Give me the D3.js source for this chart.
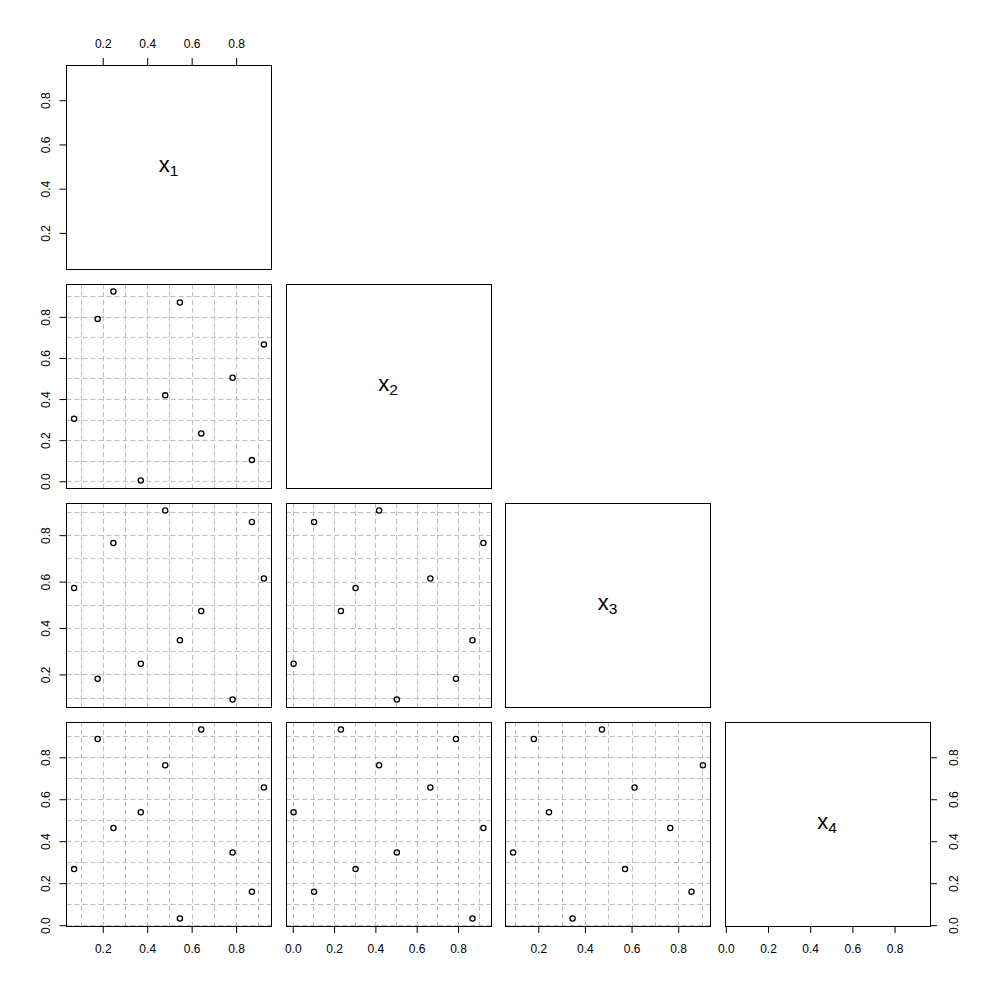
<!DOCTYPE html>
<html>
<head>
<meta charset="utf-8">
<script src="https://cdn.jsdelivr.net/npm/d3@7"></script>
<style>
	body { margin: 0; background: #FFFFFF; }
	text { font-family: "Liberation Sans", Arial, Helvetica, sans-serif; fill: #000000; }
</style>
</head>
<body>
<div id="vis_container"></div>
<script>
// sample values, one array per variable (same point order in each)
var x1 = [0.248, 0.547, 0.177, 0.925, 0.784, 0.481, 0.071, 0.643, 0.871, 0.371];
var x2 = [0.923, 0.870, 0.790, 0.666, 0.504, 0.418, 0.304, 0.233, 0.103, 0.004];
var x3 = [0.766, 0.347, 0.181, 0.613, 0.092, 0.906, 0.572, 0.473, 0.857, 0.246];
var x4 = [0.463, 0.032, 0.887, 0.656, 0.346, 0.762, 0.267, 0.932, 0.159, 0.538];

var labelSubs = ["1", "2", "3", "4"];
var tickValues = [
	[0.2, 0.4, 0.6, 0.8],
	[0.0, 0.2, 0.4, 0.6, 0.8],
	[0.2, 0.4, 0.6, 0.8],
	[0.0, 0.2, 0.4, 0.6, 0.8]
];
var gridValues = [0.0, 0.1, 0.2, 0.3, 0.4, 0.5, 0.6, 0.7, 0.8, 0.9, 1.0];

var vars = [x1, x2, x3, x4];

var pairs = {};
pairs.width = 997;
pairs.height = 993;
pairs.colLeft = 66.5;
pairs.rowTop = 65;
pairs.pitchX = 219.5;
pairs.pitchY = 219;
pairs.cellW = 205;
pairs.cellH = 204;
pairs.fmt = d3.format(".1f");

pairs.svg = d3.select("#vis_container").append("svg")
	.attr("width", pairs.width)
	.attr("height", pairs.height)
	.style("background-color", "#FFFFFF");

// R style range: extent widened by 4% each side
function rDomain(v) {
	var e = d3.extent(v);
	var pad = (e[1] - e[0]) * 0.04;
	return [e[0] - pad, e[1] + pad];
}

var xScales = vars.map(function(v, i) {
	var x0 = pairs.colLeft + i * pairs.pitchX;
	return d3.scaleLinear().domain(rDomain(v)).range([x0, x0 + pairs.cellW]);
});
var yScales = vars.map(function(v, j) {
	var y0 = pairs.rowTop + j * pairs.pitchY;
	return d3.scaleLinear().domain(rDomain(v)).range([y0 + pairs.cellH, y0]);
});

var defs = pairs.svg.append("defs");

for (var j = 0; j < vars.length; j++) {
	for (var i = 0; i <= j; i++) {
		var xs = xScales[i], ys = yScales[j];
		var px = xs.range()[0], py = ys.range()[1];
		var g = pairs.svg.append("g").attr("class", "panel");

		if (i == j) {
			var lab = g.append("text")
				.attr("x", px + pairs.cellW / 2 - 0.5)
				.attr("y", py + pairs.cellH / 2 + 5)
				.attr("text-anchor", "middle")
				.style("font-size", "22px")
				.text("x");
			lab.append("tspan")
				.attr("dy", 4)
				.style("font-size", "15.5px")
				.text(labelSubs[i]);
		} else {
			var clipId = "clip" + i + "_" + j;
			defs.append("clipPath").attr("id", clipId)
				.append("rect")
				.attr("x", px).attr("y", py)
				.attr("width", pairs.cellW).attr("height", pairs.cellH);

			var grid = g.append("g").attr("clip-path", "url(#" + clipId + ")");
			grid.selectAll(".vgrid").data(gridValues).enter().append("line")
				.attr("x1", function(d) { return Math.round(xs(d)) + 0.5; })
				.attr("x2", function(d) { return Math.round(xs(d)) + 0.5; })
				.attr("y1", py).attr("y2", py + pairs.cellH)
				.attr("stroke", "#BEBEBE").attr("stroke-width", 1)
				.attr("stroke-dasharray", "5,3");
			grid.selectAll(".hgrid").data(gridValues).enter().append("line")
				.attr("y1", function(d) { return Math.round(ys(d)) + 0.5; })
				.attr("y2", function(d) { return Math.round(ys(d)) + 0.5; })
				.attr("x1", px).attr("x2", px + pairs.cellW)
				.attr("stroke", "#BEBEBE").attr("stroke-width", 1)
				.attr("stroke-dasharray", "5,3");

			g.selectAll("circle").data(d3.range(vars[i].length)).enter().append("circle")
				.attr("cx", function(k) { return xs(vars[i][k]); })
				.attr("cy", function(k) { return ys(vars[j][k]); })
				.attr("r", 2.6)
				.attr("fill", "none")
				.attr("stroke", "#000000")
				.attr("stroke-width", 1.3);
		}

		g.append("rect")
			.attr("x", px).attr("y", py)
			.attr("width", pairs.cellW).attr("height", pairs.cellH)
			.attr("fill", "none")
			.attr("stroke", "#000000")
			.attr("stroke-width", 1)
			.attr("shape-rendering", "crispEdges");

		// axes like R pairs(): top on first panel, left on first column,
		// bottom on last row, right on last diagonal
		if (j == 0 && i == 0) {
			var a = g.append("g").attr("transform", "translate(0," + py + ")")
				.call(d3.axisTop(xs).tickValues(tickValues[i]).tickFormat(pairs.fmt).tickSizeOuter(0).tickSize(7).tickPadding(10));
			styleAxis(a);
		}
		if (i == 0) {
			var a = g.append("g").attr("transform", "translate(" + px + ",0)")
				.call(d3.axisLeft(ys).tickValues(tickValues[j]).tickFormat(pairs.fmt).tickSizeOuter(0).tickSize(7));
			styleAxis(a);
			a.selectAll(".tick text")
				.attr("x", null).attr("dy", null)
				.attr("text-anchor", "middle")
				.attr("transform", "translate(-16.5,0) rotate(-90)");
		}
		if (j == vars.length - 1) {
			var a = g.append("g").attr("transform", "translate(0," + (py + pairs.cellH) + ")")
				.call(d3.axisBottom(xs).tickValues(tickValues[i]).tickFormat(pairs.fmt).tickSizeOuter(0).tickSize(7));
			styleAxis(a);
			a.selectAll(".tick text").attr("y", 27).attr("dy", null);
		}
		if (i == vars.length - 1 && j == vars.length - 1) {
			var a = g.append("g").attr("transform", "translate(" + (px + pairs.cellW) + ",0)")
				.call(d3.axisRight(ys).tickValues(tickValues[j]).tickFormat(pairs.fmt).tickSizeOuter(0).tickSize(7));
			styleAxis(a);
			a.selectAll(".tick text")
				.attr("x", null).attr("dy", null)
				.attr("text-anchor", "middle")
				.attr("transform", "translate(27.5,0) rotate(-90)");
		}
	}
}

function styleAxis(a) {
	a.select(".domain").remove();
	a.selectAll(".tick line").attr("stroke", "#000000").attr("stroke-width", 1);
	a.selectAll(".tick text")
		.attr("fill", "#000000")
		.style("font-size", "12px")
		.style("font-family", "'Liberation Sans', Arial, Helvetica, sans-serif");
}
</script>
</body>
</html>
